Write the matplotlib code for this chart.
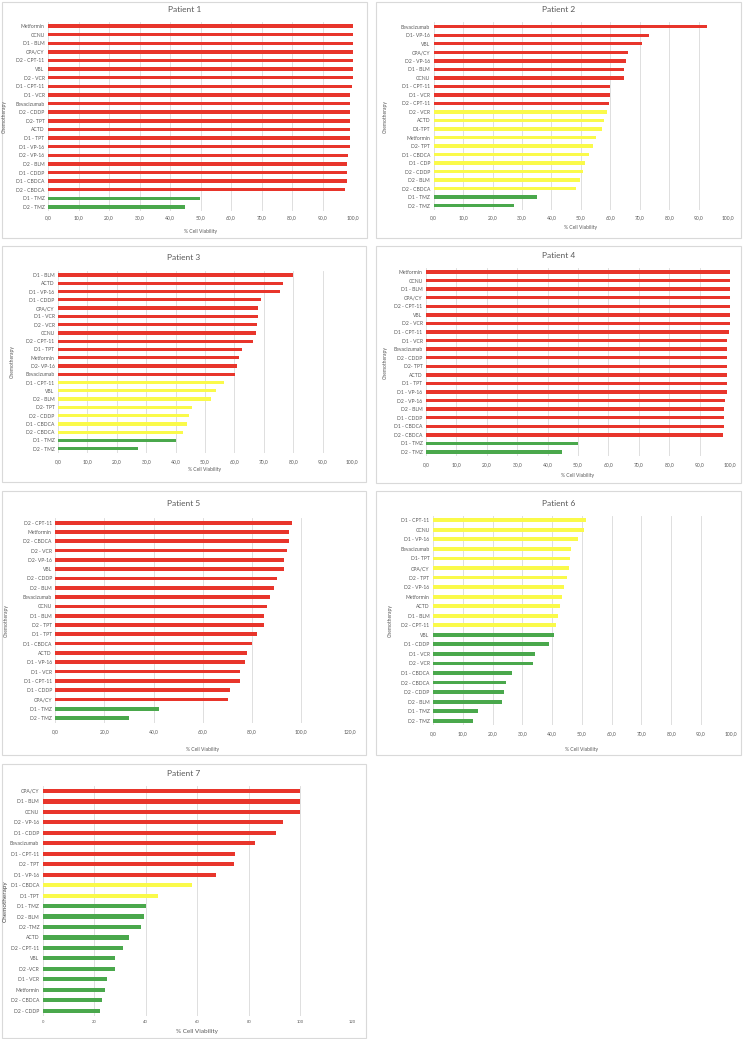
import numpy as np
import matplotlib
matplotlib.use("Agg")
import matplotlib.pyplot as plt
from matplotlib.patches import Rectangle
from matplotlib.ticker import FuncFormatter

plt.rcParams["font.family"] = ["Lato", "DejaVu Sans"]

RED = "#E8352B"
YELLOW = "#FAFA4A"
GREEN = "#4AA84C"
TEXT = "#595959"

# ---------------- data (top bar first) ----------------
p1_drugs = ["Metformin", "CCNU", "D1 - BLM", "CPA/CY", "D2 - CPT-11", "VBL", "D2 - VCR",
            "D1 - CPT-11", "D1 - VCR", "Bevacizumab", "D2 - CDDP", "D2- TPT", "ACTD",
            "D1 - TPT", "D1 - VP-16", "D2 - VP-16", "D2 - BLM", "D1 - CDDP", "D1 - CBDCA",
            "D2 - CBDCA", "D1 - TMZ", "D2 - TMZ"]
p1_viability = [100, 100, 100, 100, 100, 100, 100, 99.7, 99.1, 99.1, 99.1, 99.1, 99.1,
                99.1, 99.1, 98.5, 98.1, 98.1, 98.1, 97.5, 49.8, 44.8]
p1_tiers = (20, 0, 2)

p2_drugs = ["Bevacizumab", "D1- VP-16", "VBL", "CPA/CY", "D2 - VP-16", "D1 - BLM", "CCNU",
            "D1 - CPT-11", "D1 - VCR", "D2 - CPT-11", "D2 - VCR", "ACTD", "D1-TPT",
            "Metformin", "D2- TPT", "D1 - CBDCA", "D1 - CDP", "D2 - CDDP", "D2 - BLM",
            "D2 - CBDCA", "D1 - TMZ", "D2 - TMZ"]
p2_viability = [93.0, 73.2, 70.7, 66.1, 65.2, 64.7, 64.7, 59.8, 59.8, 59.7, 58.9, 57.9,
                57.2, 55.3, 54.1, 52.8, 51.4, 50.7, 49.6, 48.5, 35.1, 27.3]
p2_tiers = (10, 10, 2)

p3_drugs = ["D1 - BLM", "ACTD", "D1 - VP-16", "D1 - CDDP", "CPA/CY", "D1 - VCR", "D2 - VCR",
            "CCNU", "D2 - CPT-11", "D1 - TPT", "Metformin", "D2- VP-16", "Bevacizumab",
            "D1 - CPT-11", "VBL", "D2 - BLM", "D2- TPT", "D2 - CDDP", "D1 - CBDCA",
            "D2 - CBDCA", "D1 - TMZ", "D2 - TMZ"]
p3_viability = [80.0, 76.6, 75.6, 69.0, 68.0, 67.9, 67.7, 67.5, 66.3, 62.6, 61.5, 61.0,
                60.1, 56.5, 53.7, 51.9, 45.6, 44.4, 43.8, 42.5, 40.0, 27.2]
p3_tiers = (13, 7, 2)

p4_drugs = list(p1_drugs)
p4_viability = [100, 100, 100, 100, 100, 100, 100, 99.7, 99.0, 99.0, 99.0, 99.0, 99.0,
                99.0, 99.0, 98.5, 98.0, 98.0, 98.0, 97.6, 50.0, 44.8]
p4_tiers = (20, 0, 2)

p5_drugs = ["D2 - CPT-11", "Metformin", "D2 - CBDCA", "D2 - VCR", "D2- VP-16", "VBL",
            "D2 - CDDP", "D2 - BLM", "Bevacizumab", "CCNU", "D1 - BLM", "D2 - TPT",
            "D1 - TPT", "D1 - CBDCA", "ACTD", "D1 - VP-16", "D1 - VCR", "D1 - CPT-11",
            "D1 - CDDP", "CPA/CY", "D1 - TMZ", "D2 - TMZ"]
p5_viability = [96.4, 95.3, 95.3, 94.2, 93.3, 93.3, 90.1, 89.2, 87.3, 86.2, 85.1, 85.1,
                82.1, 80.2, 78.2, 77.4, 75.2, 75.2, 71.1, 70.2, 42.2, 30.0]
p5_tiers = (20, 0, 2)

p6_drugs = ["D1 - CPT-11", "CCNU", "D1 - VP-16", "Bevacizumab", "D1- TPT", "CPA/CY",
            "D2 - TPT", "D2 - VP-16", "Metformin", "ACTD", "D1 - BLM", "D2 - CPT-11", "VBL",
            "D1 - CDDP", "D1 - VCR", "D2 - VCR", "D1 - CBDCA", "D2 - CBDCA", "D2 - CDDP",
            "D2 - BLM", "D1 - TMZ", "D2 - TMZ"]
p6_viability = [51.3, 50.7, 48.8, 46.2, 46.0, 45.6, 44.9, 44.1, 43.3, 42.6, 42.0, 41.4,
                40.5, 38.9, 34.2, 33.5, 26.4, 24.6, 23.9, 23.2, 15.1, 13.5]
p6_tiers = (0, 12, 10)

p7_drugs = ["CPA/CY", "D1 - BLM", "CCNU", "D2 - VP-16", "D1 - CDDP", "Bevacizumab",
            "D1 - CPT-11", "D2 - TPT", "D1 - VP-16", "D1 - CBDCA", "D1 -TPT", "D1 - TMZ",
            "D2 - BLM", "D2 -TMZ", "ACTD", "D2 - CPT-11", "VBL", "D2 -VCR", "D1 - VCR",
            "Metformin", "D2 - CBDCA", "D2 - CDDP"]
p7_viability = [100, 100, 100, 93.3, 90.6, 82.2, 74.7, 74.2, 67.1, 57.8, 44.7, 39.9, 39.4,
                38.0, 33.5, 31.0, 28.2, 28.0, 24.8, 24.0, 22.9, 22.4]
p7_tiers = (9, 2, 11)

titles = ["Patient 1", "Patient 2", "Patient 3", "Patient 4", "Patient 5", "Patient 6", "Patient 7"]
x_max = [100, 100, 100, 100, 120, 100, 120]
x_step = [10, 10, 10, 10, 20, 10, 20]

# ---------------- layout in pixels ----------------
W, H = 743, 1039
# box (x0, y0, x1, y1), plot x at 0, plot x at xmax, first bar y, last bar y,
# title y, xlabel y, ylabel x, tick label y
layout = [
    ((2, 2, 367, 238), 48, 353, 26, 207, 10, 232, 4, 217),
    ((376, 2, 741, 238), 433.7, 728, 26.7, 205.7, 10, 227, 385, 217),
    ((2, 246, 366, 482), 58, 352, 275, 448.7, 257, 470, 12, 461),
    ((376, 246, 741, 483), 426, 730, 272, 452, 256, 476, 385, 464),
    ((2, 491, 366, 755), 55.3, 350, 522.7, 718, 504, 749, 6, 730.7),
    ((376, 491, 741, 755), 433, 730.7, 520.3, 720.7, 503, 750, 390, 733),
    ((2, 764, 366, 1038), 42.7, 352, 791, 1010.7, 773.7, 1032, 5, 1022),
]

panels = [
    (p1_drugs, p1_viability, p1_tiers),
    (p2_drugs, p2_viability, p2_tiers),
    (p3_drugs, p3_viability, p3_tiers),
    (p4_drugs, p4_viability, p4_tiers),
    (p5_drugs, p5_viability, p5_tiers),
    (p6_drugs, p6_viability, p6_tiers),
    (p7_drugs, p7_viability, p7_tiers),
]

fig = plt.figure(figsize=(W / 100, H / 100), dpi=100)
fig.patch.set_facecolor("white")

PT = 100 / 72  # pixels per point


def fx(px):
    return px / W


def fy(py):
    return 1 - py / H


for i, ((drugs, vals, tiers), lay) in enumerate(zip(panels, layout)):
    box, xa, xb, yt, yb, ty, xly, ylx, tky = lay
    n = len(drugs)
    step = (yb - yt) / (n - 1)
    top = yt - step / 2
    bottom = yb + step / 2

    fig.add_artist(Rectangle((fx(box[0]), fy(box[3])), fx(box[2] - box[0]),
                             (box[3] - box[1]) / H, transform=fig.transFigure,
                             fill=False, edgecolor="#D9D9D9", linewidth=0.8))

    ax = fig.add_axes([fx(xa), fy(bottom), fx(xb - xa), (bottom - top) / H])
    colors = [RED] * tiers[0] + [YELLOW] * tiers[1] + [GREEN] * tiers[2]
    ypos = np.arange(n)
    ax.barh(ypos, vals, height=0.4, color=colors, zorder=3)
    ax.set_ylim(n - 0.5, -0.5)
    ax.set_xlim(0, x_max[i])
    ax.set_yticks(ypos)
    ax.set_yticklabels(drugs)
    ax.set_xticks(np.arange(0, x_max[i] + 1, x_step[i]))
    if i == 6:
        ax.xaxis.set_major_formatter(FuncFormatter(lambda v, p: f"{v:.0f}"))
    else:
        ax.xaxis.set_major_formatter(FuncFormatter(lambda v, p: f"{v:.1f}".replace(".", ",")))
    ax.grid(axis="x", color="#D9D9D9", linewidth=0.6, zorder=0)
    for s in ax.spines.values():
        s.set_visible(False)
    ax.tick_params(axis="both", length=0, labelsize=3.6, colors=TEXT)
    ax.tick_params(axis="y", pad=2.5)
    ax.tick_params(axis="x", pad=max((tky - 1.8 - bottom) / PT, 0.5),
                   labelsize=3.0 if i == 6 else 3.6)
    ax.set_facecolor("none")

    cx = (box[0] + box[2]) / 2
    fig.text(fx(cx), fy(ty), titles[i], ha="center", va="center", fontsize=6, color=TEXT)
    fig.text(fx((xa + xb) / 2), fy(xly), "% Cell Viability", ha="center", va="center",
             fontsize=4.6 if i == 6 else 3.6, color=TEXT)
    fig.text(fx(ylx), fy((top + bottom) / 2), "Chemotherapy", ha="center", va="center",
             rotation=90, fontsize=4.6 if i == 6 else 3.6,
             color="#404040" if i == 6 else TEXT)

fig.savefig("out.png", dpi=100, facecolor="white")
